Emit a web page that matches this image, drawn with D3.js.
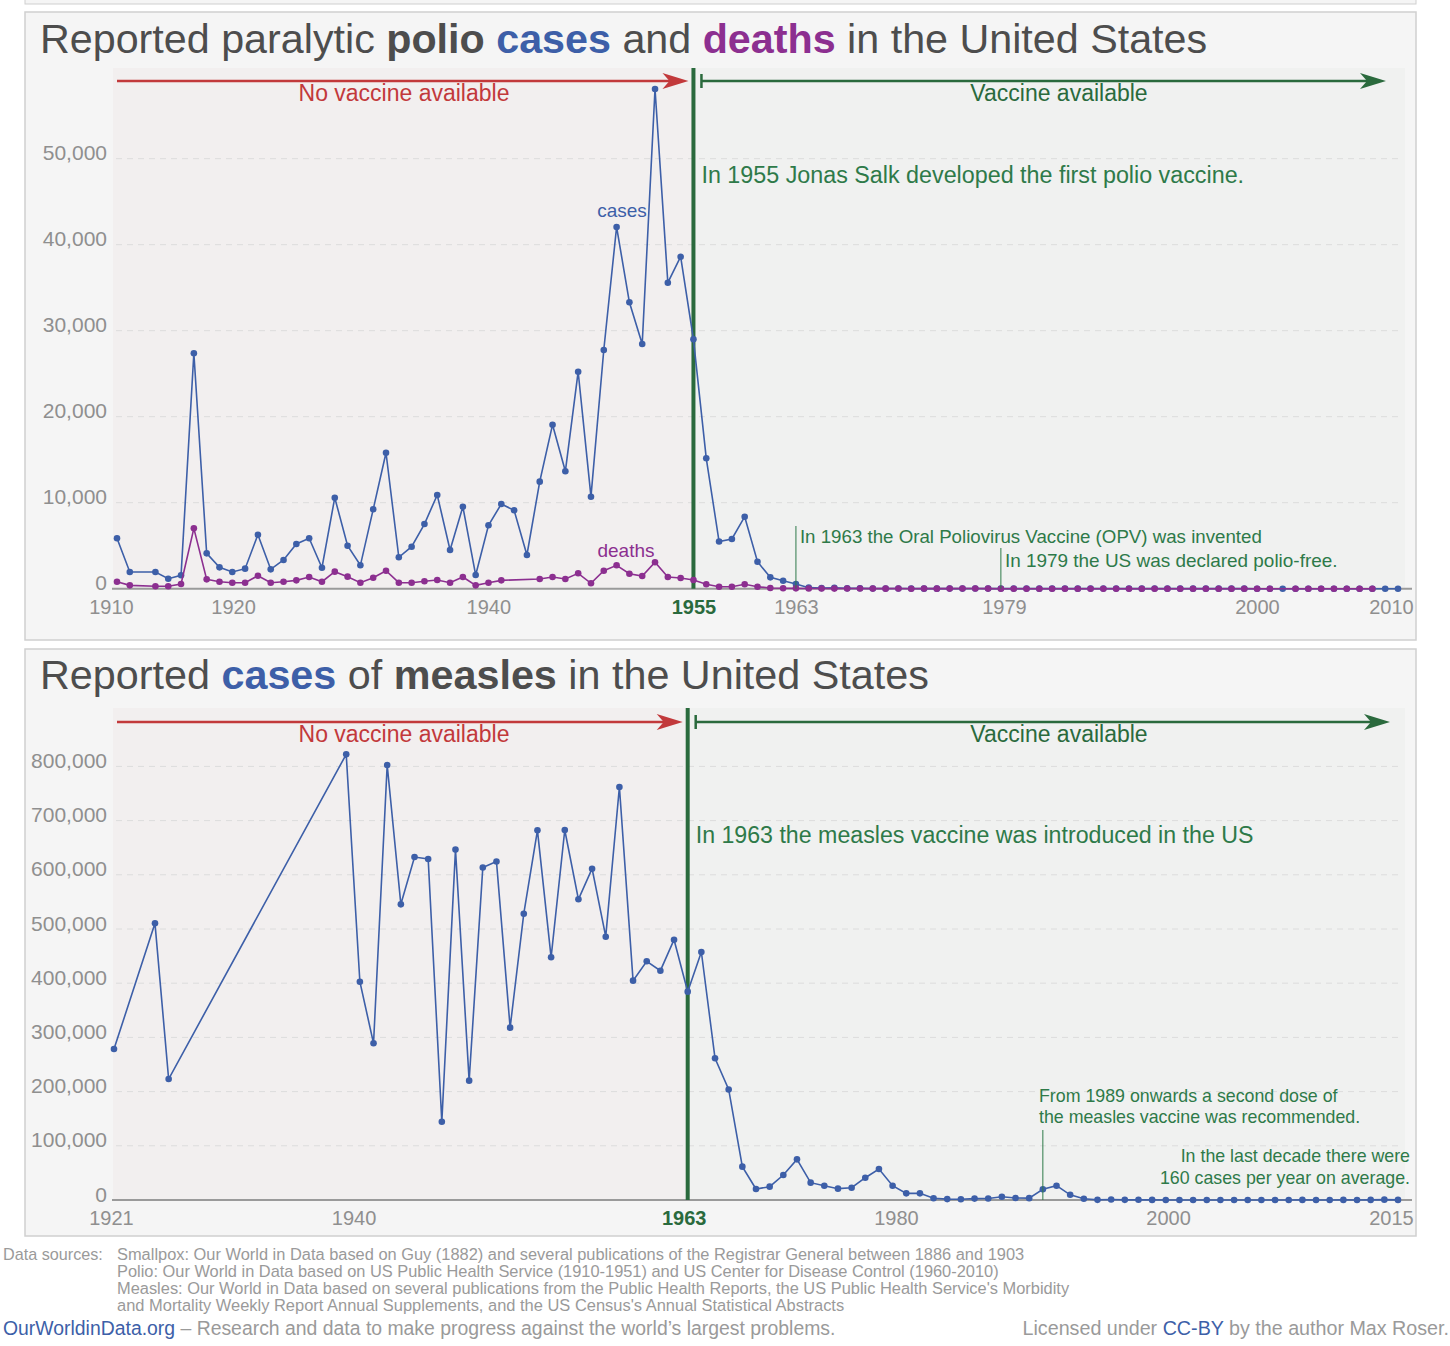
<!DOCTYPE html>
<html>
<head>
<meta charset="utf-8">
<script src="https://cdn.jsdelivr.net/npm/d3@7"></script>
<style>
  body { margin: 0; background: #fff; }
  svg { display: block; }
  text { font-family: "Liberation Sans", Arial, sans-serif; }
</style>
</head>
<body>
<svg id="chart"></svg>
<script>
// polio: paralytic cases and deaths (1912 not reported)
var polioYears = [1910, 1911, 1913, 1914, 1915, 1916, 1917, 1918, 1919,
  1920, 1921, 1922, 1923, 1924, 1925, 1926, 1927, 1928, 1929,
  1930, 1931, 1932, 1933, 1934, 1935, 1936, 1937, 1938, 1939,
  1940, 1941, 1942, 1943, 1944, 1945, 1946, 1947, 1948, 1949,
  1950, 1951, 1952, 1953, 1954, 1955, 1956, 1957, 1958, 1959,
  1960, 1961, 1962, 1963, 1964, 1965, 1966, 1967, 1968, 1969,
  1970, 1971, 1972, 1973, 1974, 1975, 1976, 1977, 1978, 1979,
  1980, 1981, 1982, 1983, 1984, 1985, 1986, 1987, 1988, 1989,
  1990, 1991, 1992, 1993, 1994, 1995, 1996, 1997, 1998, 1999,
  2000, 2001, 2002, 2003, 2004, 2005, 2006, 2007, 2008, 2009,
  2010];
var polioCases = [5860, 1940, 1940, 1160, 1560, 27370, 4110, 2480, 1940,
  2330, 6280, 2250, 3340, 5200, 5860, 2440, 10580, 5000, 2720,
  9230, 15810, 3650, 4880, 7520, 10900, 4500, 9530, 1590, 7370,
  9850, 9120, 3920, 12450, 19070, 13650, 25230, 10700, 27760, 42060,
  33300, 28450, 58100, 35580, 38600, 29000, 15160, 5480, 5780, 8370,
  3140, 1320, 930, 550, 120, 70, 110, 40, 50, 20,
  30, 20, 30, 8, 7, 13, 10, 18, 14, 30,
  9, 10, 8, 13, 9, 8, 10, 9, 9, 10,
  6, 10, 6, 5, 8, 7, 7, 6, 3, 2,
  0, 0, 0, 0, 0, 1, 0, 1, 0, 0,
  0];
var polioDeaths = [810, 390, 280, 280, 550, 7020, 1090, 810, 700,
  700, 1510, 700, 810, 970, 1360, 810, 1980, 1400, 700,
  1280, 2090, 700, 700, 860, 1010, 700, 1360, 390, 700,
  970, null, null, 1130, 1360, 1130, 1790, 630, 2090, 2720,
  1740, 1470, 3070, 1360, 1240, 1010, 510, 230, 230, 510,
  230, 90, 60, 40, 20, 16, 9, 16, 24, 13,
  7, 18, 2, 10, 3, 9, 16, 16, 13, 2,
  0, 0, 0, 0, 0, 0, 0, 0, 0, 0,
  0, 0, 0, 0, 0, 0, 0, 0, 0, 0,
  0, null, 0, 0, 0, 0, 0, 0, 0, null,
  null];
var polioYTicks = [0, 10000, 20000, 30000, 40000, 50000];
var polioXTicks = [1910, 1920, 1940, 1955, 1963, 1979, 2000, 2010];

// measles: reported cases
var measlesYears = [1921, 1924, 1925, 1938, 1939,
  1940, 1941, 1942, 1943, 1944, 1945, 1946, 1947, 1948, 1949,
  1950, 1951, 1952, 1953, 1954, 1955, 1956, 1957, 1958, 1959,
  1960, 1961, 1962, 1963, 1964, 1965, 1966, 1967, 1968, 1969,
  1970, 1971, 1972, 1973, 1974, 1975, 1976, 1977, 1978, 1979,
  1980, 1981, 1982, 1983, 1984, 1985, 1986, 1987, 1988, 1989,
  1990, 1991, 1992, 1993, 1994, 1995, 1996, 1997, 1998, 1999,
  2000, 2001, 2002, 2003, 2004, 2005, 2006, 2007, 2008, 2009,
  2010, 2011, 2012, 2013, 2014, 2015];
var measlesCases = [278600, 510500, 223200, 822300, 402800,
  289100, 802600, 545500, 632800, 629200, 144500, 646500, 220200, 613500, 624500,
  318000, 528200, 682000, 447800, 682700, 554800, 611300, 485800, 762000, 404700,
  440400, 423100, 480300, 384400, 457600, 261400, 204000, 61500, 20300, 24600,
  46100, 75000, 32000, 26400, 20900, 22700, 41100, 57200, 26400, 12300,
  12300, 3100, 1700, 1500, 2600, 2800, 6100, 3700, 3400, 19700,
  26400, 9600, 2200, 300, 960, 310, 510, 140, 100, 100,
  86, 116, 44, 56, 37, 66, 55, 43, 140, 71,
  63, 220, 55, 187, 667, 188];
var measlesYTicks = [0, 100000, 200000, 300000, 400000, 500000, 600000, 700000, 800000];
var measlesXTicks = [1921, 1940, 1963, 1980, 2000, 2015];

var blue = "#3d5fa8", purple = "#8c2f90", red = "#c2393b",
    green = "#2a6a3d", greenText = "#2e7a49", grey = "#8f8f8f", titleGrey = "#4d4d4d";

var svg = d3.select("#chart").attr("width", 1450).attr("height", 1346);

// scale a text's font-size so it spans a given width
function fit(sel, width) {
  var w = sel.node().getComputedTextLength();
  var fs = parseFloat(sel.attr("font-size"));
  sel.attr("font-size", (fs * width / w).toFixed(2));
  return sel;
}

function arrow(g, x1, x2, y, color, startBar) {
  g.append("line").attr("x1", x1).attr("x2", x2 - 16).attr("y1", y).attr("y2", y)
    .attr("stroke", color).attr("stroke-width", 2.5);
  g.append("path")
    .attr("d", "M" + x2 + "," + y + "L" + (x2 - 26) + "," + (y - 8) + "L" + (x2 - 19) + "," + y +
      "L" + (x2 - 26) + "," + (y + 8) + "Z")
    .attr("fill", color);
  if (startBar) {
    g.append("line").attr("x1", x1).attr("x2", x1).attr("y1", y - 7).attr("y2", y + 7)
      .attr("stroke", color).attr("stroke-width", 2.5);
  }
}

// the edge of the panel above (cut off)
svg.append("rect").attr("x", 25).attr("y", -10).attr("width", 1391).attr("height", 14)
  .attr("fill", "#f5f5f5").attr("stroke", "#cfcfcf");

function drawPanel(o) {
  var g = svg.append("g");
  g.append("rect").attr("x", 25).attr("y", o.top).attr("width", 1391).attr("height", o.height)
    .attr("fill", "#f5f5f5").attr("stroke", "#cfcfcf").attr("stroke-width", 1.5);

  var x = o.x, y = o.y;
  var vx = x(o.vaccineYear);
  var py0 = o.plotTop, py1 = y(0);

  // plot background, before and after vaccine
  g.append("rect").attr("x", 113).attr("y", py0).attr("width", vx - 113).attr("height", py1 - py0)
    .attr("fill", "#f2efef");
  g.append("rect").attr("x", vx).attr("y", py0).attr("width", 1405 - vx).attr("height", py1 - py0)
    .attr("fill", "#f0f1f0");

  // title
  var t = g.append("text").attr("x", 40).attr("y", o.titleY).attr("font-size", 40).attr("fill", titleGrey);
  o.title.forEach(function (p) {
    t.append("tspan").text(p[0]).attr("font-weight", p[1] ? "bold" : null).attr("fill", p[2] || null);
  });
  fit(t, o.titleWidth);

  // gridlines
  g.append("g").selectAll("line").data(o.yTicks.filter(function (d) { return d > 0; }))
    .join("line")
    .attr("x1", 116).attr("x2", 1400)
    .attr("y1", function (d) { return y(d); }).attr("y2", function (d) { return y(d); })
    .attr("stroke", "#dcdcdc").attr("stroke-width", 1).attr("stroke-dasharray", "6,5");

  // y axis labels
  var ya = g.append("g").attr("transform", "translate(113,0)")
    .call(d3.axisLeft(y).tickValues(o.yTicks).tickSize(0).tickPadding(6).tickFormat(d3.format(",")));
  ya.select(".domain").remove();
  ya.selectAll("text").attr("font-size", 21).attr("fill", grey).attr("dy", "0.05em")
    .attr("font-family", "Liberation Sans, Arial, sans-serif");

  // x axis (labels nudged the way the original places them)
  var xa = g.append("g").attr("transform", "translate(0," + py1 + ")")
    .call(d3.axisBottom(x).tickValues(o.xTicks).tickSize(0).tickFormat(d3.format("d")));
  xa.select(".domain").attr("d", "M112,0H1412").attr("stroke", "#9a9a9a").attr("stroke-width", 2);
  xa.selectAll("text").attr("y", 25).attr("dy", 0).attr("font-size", 20)
    .attr("dx", function (d) { return o.labelShift[d] || 0; })
    .attr("font-family", "Liberation Sans, Arial, sans-serif")
    .attr("fill", function (d) { return d === o.vaccineYear ? green : grey; })
    .attr("font-weight", function (d) { return d === o.vaccineYear ? "bold" : null; });

  // arrows
  arrow(g, 117, vx - 5, o.arrowY, red, false);
  g.append("text").attr("x", 404).attr("y", o.arrowY + 20).attr("text-anchor", "middle")
    .attr("font-size", 23).attr("fill", red).text("No vaccine available");
  arrow(g, vx + 8, o.arrowEnd, o.arrowY, green, true);
  g.append("text").attr("x", 1059).attr("y", o.arrowY + 20).attr("text-anchor", "middle")
    .attr("font-size", 23).attr("fill", green).text("Vaccine available");

  // vaccine line
  g.append("line").attr("x1", vx).attr("x2", vx).attr("y1", py0).attr("y2", py1)
    .attr("stroke", green).attr("stroke-width", 4);

  fit(g.append("text").attr("x", vx + 8).attr("y", o.noteY).attr("font-size", 22)
    .attr("fill", greenText).text(o.note), o.noteWidth);

  // series
  o.series.forEach(function (s) {
    var pts = o.years.map(function (yr, i) { return { year: yr, v: s.values[i] }; })
      .filter(function (d) { return d.v != null; });
    g.append("path").datum(pts)
      .attr("d", d3.line().x(function (d) { return x(d.year); }).y(function (d) { return y(d.v); }))
      .attr("fill", "none").attr("stroke", s.color).attr("stroke-width", 1.6);
    g.append("g").selectAll("circle").data(pts).join("circle")
      .attr("cx", function (d) { return x(d.year); }).attr("cy", function (d) { return y(d.v); })
      .attr("r", 3.3).attr("fill", s.color);
  });
  return g;
}

// polio panel
var px = d3.scaleLinear().domain([1910, 2010]).range([117, 1398]);
var py = d3.scaleLinear().domain([0, 60000]).range([588.7, 72.7]);
var gp = drawPanel({
  top: 12, height: 628, plotTop: 68, titleY: 53, titleWidth: 1167,
  title: [["Reported paralytic "], ["polio", true], [" "], ["cases", true, blue], [" and "],
    ["deaths", true, purple], [" in the United States"]],
  x: px, y: py, yTicks: polioYTicks, xTicks: polioXTicks, vaccineYear: 1955,
  labelShift: { 1910: -6, 1920: -12, 1940: -13, 1979: 3, 2000: -13, 2010: -7 },
  arrowY: 81, arrowEnd: 1386, noteY: 183, noteWidth: 543,
  note: "In 1955 Jonas Salk developed the first polio vaccine.",
  years: polioYears,
  series: [{ values: polioCases, color: blue }, { values: polioDeaths, color: purple }]
});
gp.append("text").attr("x", 622).attr("y", 217).attr("text-anchor", "middle")
  .attr("font-size", 19).attr("fill", blue).text("cases");
gp.append("text").attr("x", 626).attr("y", 557).attr("text-anchor", "middle")
  .attr("font-size", 19).attr("fill", purple).text("deaths");
[[1963, 526, 543, "In 1963 the Oral Poliovirus Vaccine (OPV) was invented", 462],
 [1979, 548, 567, "In 1979 the US was declared polio-free.", 333]].forEach(function (a) {
  var ax = px(a[0]);
  gp.append("line").attr("x1", ax).attr("x2", ax).attr("y1", a[1]).attr("y2", py(0))
    .attr("stroke", greenText).attr("stroke-width", 1);
  fit(gp.append("text").attr("x", ax + 4).attr("y", a[2]).attr("font-size", 18.5)
    .attr("fill", greenText).text(a[3]), a[4]);
});

// measles panel
var mx = d3.scaleLinear().domain([1921, 2015]).range([114, 1398]);
var my = d3.scaleLinear().domain([0, 800000]).range([1200, 766.4]);
var gm = drawPanel({
  top: 649, height: 587, plotTop: 708, titleY: 689, titleWidth: 889,
  title: [["Reported "], ["cases", true, blue], [" of "], ["measles", true], [" in the United States"]],
  x: mx, y: my, yTicks: measlesYTicks, xTicks: measlesXTicks, vaccineYear: 1963,
  labelShift: { 1921: -3, 1940: -20, 1963: -4, 1980: -24, 2000: -25, 2015: -7 },
  arrowY: 722, arrowEnd: 1390, noteY: 843, noteWidth: 558,
  note: "In 1963 the measles vaccine was introduced in the US",
  years: measlesYears,
  series: [{ values: measlesCases, color: blue }]
});
var x89 = mx(1989);
gm.append("line").attr("x1", x89).attr("x2", x89).attr("y1", 1130).attr("y2", my(0))
  .attr("stroke", greenText).attr("stroke-width", 1);
gm.append("text").attr("x", 1039).attr("y", 1102).attr("font-size", 17.8).attr("fill", greenText)
  .text("From 1989 onwards a second dose of");
gm.append("text").attr("x", 1039).attr("y", 1123).attr("font-size", 17.8).attr("fill", greenText)
  .text("the measles vaccine was recommended.");
gm.append("text").attr("x", 1410).attr("y", 1162).attr("font-size", 17.8).attr("fill", greenText)
  .attr("text-anchor", "end").text("In the last decade there were");
gm.append("text").attr("x", 1410).attr("y", 1184).attr("font-size", 17.8).attr("fill", greenText)
  .attr("text-anchor", "end").text("160 cases per year on average.");

// footer
var foot = svg.append("g").attr("fill", "#9a9a9a");
fit(foot.append("text").attr("x", 3).attr("y", 1260).attr("font-size", 15).text("Data sources:"), 100);
var sources = [
  ["Smallpox: Our World in Data based on Guy (1882) and several publications of the Registrar General between 1886 and 1903", 908],
  ["Polio: Our World in Data based on US Public Health Service (1910-1951) and US Center for Disease Control (1960-2010)", 882],
  ["Measles: Our World in Data based on several publications from the Public Health Reports, the US Public Health Service's Morbidity", 953],
  ["and Mortality Weekly Report Annual Supplements, and the US Census's Annual Statistical Abstracts", 728]
];
sources.forEach(function (s, i) {
  fit(foot.append("text").attr("x", 117).attr("y", 1260 + i * 17).attr("font-size", 15).text(s[0]), s[1]);
});
var owid = foot.append("text").attr("x", 3).attr("y", 1335).attr("font-size", 19);
owid.append("tspan").attr("fill", blue).text("OurWorldinData.org");
owid.append("tspan").text(" \u2013 Research and data to make progress against the world\u2019s largest problems.");
fit(owid, 833);
var lic = foot.append("text").attr("x", 1449).attr("y", 1335).attr("font-size", 19).attr("text-anchor", "end");
lic.append("tspan").text("Licensed under ");
lic.append("tspan").attr("fill", blue).text("CC-BY");
lic.append("tspan").text(" by the author Max Roser.");
fit(lic, 427);
</script>
</body>
</html>
